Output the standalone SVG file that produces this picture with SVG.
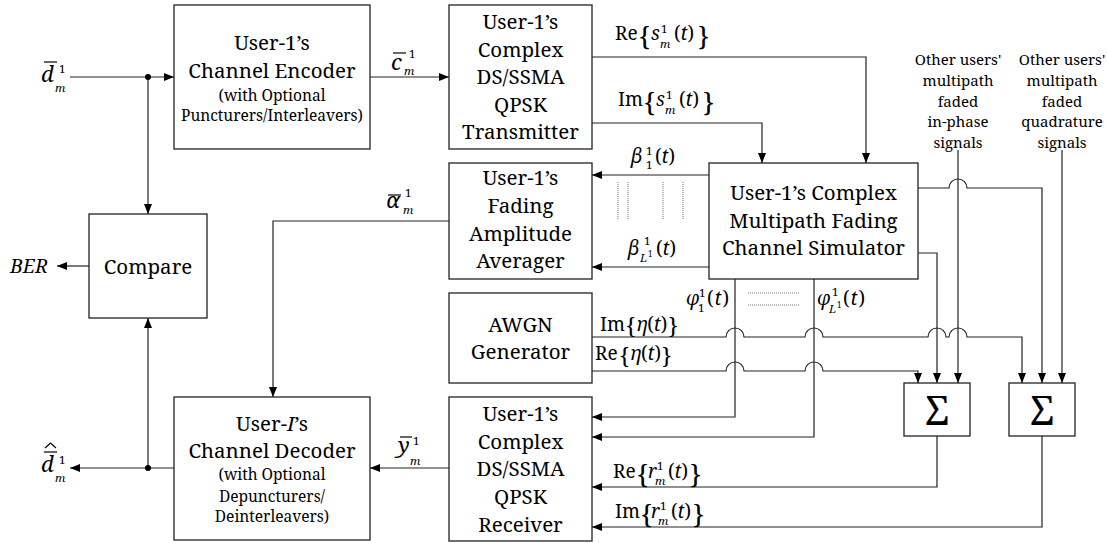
<svg xmlns="http://www.w3.org/2000/svg" width="1107" height="543" viewBox="0 0 1107 543">
<style>
.t{font-family:'Noto Serif','Liberation Serif','DejaVu Serif',serif;fill:#000}
.bx{font-size:20.5px;text-anchor:middle}
.sm{font-size:15.5px;text-anchor:middle}
.ou{font-size:15px;text-anchor:middle}
.m{font-size:19px}
.i{font-style:italic}
.s{font-size:11.5px}
.ss{font-size:8px}
.br{font-size:26px}
.bs{font-size:22px}
.bg{font-size:22px}
rect.n{fill:#fff;stroke:#222;stroke-width:1.3}
.ca{fill:none;stroke:#222;stroke-width:1.2;marker-end:url(#ah)}
.dot{fill:none;stroke:#777;stroke-width:1;stroke-dasharray:1 1}
.bar{fill:none;stroke:#000;stroke-width:1.2}
</style>
<defs>
<marker id="ah" markerWidth="10" markerHeight="8" refX="10" refY="4" orient="auto" markerUnits="userSpaceOnUse">
<path d="M0,0 L10,4 L0,8 z" fill="#000"/>
</marker>
</defs>

<g id="connectors">
<path class="ca" d="M70,77 H174"/>
<path class="ca" d="M148,77 V214"/>
<path class="ca" d="M370,77 H449"/>
<path class="ca" d="M592,57 H866 V163"/>
<path class="ca" d="M592,123 H762 V163"/>
<path class="ca" d="M709,175 H592"/>
<path class="ca" d="M709,267 H592"/>
<path class="ca" d="M449,221 H273 V397"/>
<path class="ca" d="M89,266 H57"/>
<path class="ca" d="M174,468 H70"/>
<path class="ca" d="M148,468 V318"/>
<path class="ca" d="M449,468 H370"/>
<path class="ca" d="M918,188 H949 A9,9 0 0 1 967,188 H1042 V383"/>
<path class="ca" d="M918,253 H937 V383"/>
<path class="ca" d="M958,150 V383"/>
<path class="ca" d="M1062,150 V383"/>
<path class="ca" d="M735,279 V417 H592"/>
<path class="ca" d="M814,279 V437 H592"/>
<path class="ca" d="M592,337 H726 A9,9 0 0 1 744,337 H805 A9,9 0 0 1 823,337 H928 A9,9 0 0 1 946,337 H949 A9,9 0 0 1 967,337 H1022 V383"/>
<path class="ca" d="M592,371 H726 A9,9 0 0 1 744,371 H805 A9,9 0 0 1 823,371 H918 V383"/>
<path class="ca" d="M937,436 V487 H592"/>
<path class="ca" d="M1042,436 V527 H592"/>
<circle cx="148" cy="77" r="3" fill="#000"/>
<circle cx="148" cy="468" r="3" fill="#000"/>
<path class="dot" d="M618,182 V220 M628,182 V220 M663,182 V220 M683,182 V220"/>
<path class="dot" d="M748,293 H800 M748,305 H800"/>
</g>

<g id="encoder">
<rect class="n" x="174" y="5" width="196" height="144"/>
<text class="t bx" x="272" y="50">User-1’s</text>
<text class="t bx" x="272" y="78">Channel Encoder</text>
<text class="t sm" x="272" y="101">(with Optional</text>
<text class="t sm" x="272" y="121">Puncturers/Interleavers)</text>
</g>

<g id="transmitter">
<rect class="n" x="449" y="5" width="143" height="144"/>
<text class="t bx" x="520.5" y="29">User-1’s</text>
<text class="t bx" x="520.5" y="56.5">Complex</text>
<text class="t bx" x="520.5" y="84">DS/SSMA</text>
<text class="t bx" x="520.5" y="111.5">QPSK</text>
<text class="t bx" x="520.5" y="139">Transmitter</text>
</g>

<g id="averager">
<rect class="n" x="449" y="163" width="143" height="116"/>
<text class="t bx" x="520.5" y="185">User-1’s</text>
<text class="t bx" x="520.5" y="213">Fading</text>
<text class="t bx" x="520.5" y="241">Amplitude</text>
<text class="t bx" x="520.5" y="268">Averager</text>
</g>

<g id="simulator">
<rect class="n" x="709" y="163" width="209" height="116"/>
<text class="t bx" x="813.5" y="200">User-1’s Complex</text>
<text class="t bx" x="813.5" y="227.5">Multipath Fading</text>
<text class="t bx" x="813.5" y="255">Channel Simulator</text>
</g>

<g id="awgn">
<rect class="n" x="449" y="293" width="143" height="90"/>
<text class="t bx" x="520.5" y="332">AWGN</text>
<text class="t bx" x="520.5" y="359">Generator</text>
</g>

<g id="receiver">
<rect class="n" x="449" y="397" width="143" height="144"/>
<text class="t bx" x="520.5" y="421">User-1’s</text>
<text class="t bx" x="520.5" y="449">Complex</text>
<text class="t bx" x="520.5" y="476">DS/SSMA</text>
<text class="t bx" x="520.5" y="504">QPSK</text>
<text class="t bx" x="520.5" y="532">Receiver</text>
</g>

<g id="decoder">
<rect class="n" x="174" y="397" width="196" height="143"/>
<text class="t bx" x="272" y="431">User-<tspan class="i">I</tspan>’s</text>
<text class="t bx" x="272" y="458">Channel Decoder</text>
<text class="t sm" x="272" y="480">(with Optional</text>
<text class="t sm" x="272" y="502">Depuncturers/</text>
<text class="t sm" x="272" y="522">Deinterleavers)</text>
</g>

<g id="compare">
<rect class="n" x="89" y="214" width="118" height="104"/>
<text class="t bx" x="148" y="274">Compare</text>
</g>

<g id="sum1">
<rect class="n" x="904" y="383" width="66" height="53"/>
<text class="t" x="937" y="425" font-size="40" text-anchor="middle">Σ</text>
</g>

<g id="sum2">
<rect class="n" x="1009" y="383" width="66" height="53"/>
<text class="t" x="1042" y="425" font-size="40" text-anchor="middle">Σ</text>
</g>

<g id="other-inphase">
<text class="t ou" x="958" y="65">Other users'</text>
<text class="t ou" x="958" y="86">multipath</text>
<text class="t ou" x="958" y="107">faded</text>
<text class="t ou" x="958" y="127">in-phase</text>
<text class="t ou" x="958" y="148">signals</text>
</g>

<g id="other-quadrature">
<text class="t ou" x="1062" y="65">Other users'</text>
<text class="t ou" x="1062" y="86">multipath</text>
<text class="t ou" x="1062" y="107">faded</text>
<text class="t ou" x="1062" y="127">quadrature</text>
<text class="t ou" x="1062" y="148">signals</text>
</g>

<g id="labels">
<text class="t"><tspan class="bg i" x="41" y="82">d</tspan><tspan class="s" x="59" y="73">1</tspan><tspan class="s i" x="55" y="92">m</tspan></text>
<line class="bar" x1="44" y1="62" x2="57" y2="62"/>
<text class="t"><tspan class="bg i" x="41" y="472">d</tspan><tspan class="s" x="59" y="464">1</tspan><tspan class="s i" x="55" y="482">m</tspan></text>
<line class="bar" x1="44" y1="452" x2="57" y2="452"/>
<polyline class="bar" points="45,448 50.5,443 56,448"/>
<text class="t"><tspan class="bg i" x="391" y="70">c</tspan><tspan class="s" x="409" y="58">1</tspan><tspan class="s i" x="404" y="75">m</tspan></text>
<line class="bar" x1="393" y1="53" x2="406" y2="53"/>
<text class="t"><tspan class="bg i" x="386" y="208">α</tspan><tspan class="s" x="405" y="197">1</tspan><tspan class="s i" x="403" y="214">m</tspan></text>
<line class="bar" x1="388" y1="195" x2="401" y2="195"/>
<text class="t"><tspan class="bg i" x="398" y="453">y</tspan><tspan class="s" x="413" y="445">1</tspan><tspan class="s i" x="410" y="465">m</tspan></text>
<line class="bar" x1="400" y1="437" x2="412" y2="437"/>
<text class="t i" x="10" y="273" font-size="19.5">BER</text>
<text class="t m"><tspan x="615" y="40">Re</tspan><tspan class="br" x="639" y="45">{</tspan><tspan class="i" x="651" y="40">s</tspan><tspan class="s" x="661" y="33">1</tspan><tspan class="s i" x="660" y="47.5">m</tspan><tspan x="674" y="40">(</tspan><tspan class="i">t</tspan><tspan>)</tspan><tspan class="br" x="698" y="45">}</tspan></text>
<text class="t m"><tspan x="618" y="106">Im</tspan><tspan class="br" x="644" y="111">{</tspan><tspan class="i" x="656" y="106">s</tspan><tspan class="s" x="666" y="99">1</tspan><tspan class="s i" x="665" y="113.5">m</tspan><tspan x="679" y="106">(</tspan><tspan class="i">t</tspan><tspan>)</tspan><tspan class="br" x="703" y="111">}</tspan></text>
<text class="t m"><tspan class="i" x="631" y="163">β</tspan><tspan class="s" x="646" y="155">1</tspan><tspan class="s" x="646" y="169">1</tspan><tspan x="655" y="163">(</tspan><tspan class="i">t</tspan><tspan>)</tspan></text>
<text class="t m"><tspan class="i" x="628" y="255">β</tspan><tspan class="s" x="644" y="244.5">1</tspan><tspan class="s i" x="640" y="262">L</tspan><tspan class="ss" x="648" y="257">1</tspan><tspan x="656" y="255">(</tspan><tspan class="i">t</tspan><tspan>)</tspan></text>
<text class="t m"><tspan class="i" x="686" y="305">φ</tspan><tspan class="s" x="699" y="297">1</tspan><tspan class="s" x="698" y="312">1</tspan><tspan x="707" y="305">(</tspan><tspan class="i" dx="1">t</tspan><tspan dx="1">)</tspan></text>
<text class="t m"><tspan class="i" x="817" y="305">φ</tspan><tspan class="s" x="832" y="295.5">1</tspan><tspan class="s i" x="829" y="313">L</tspan><tspan class="ss" x="837" y="308">1</tspan><tspan x="843" y="305">(</tspan><tspan class="i" dx="1">t</tspan><tspan dx="1">)</tspan></text>
<text class="t m"><tspan x="600" y="331">Im</tspan><tspan class="bs" y="333.5" dx="1">{</tspan><tspan class="i" y="331" dx="1">η</tspan><tspan>(</tspan><tspan class="i">t</tspan><tspan>)</tspan><tspan class="bs" y="333.5" dx="1">}</tspan></text>
<text class="t m"><tspan x="595" y="360">Re</tspan><tspan class="bs" y="364" dx="2">{</tspan><tspan class="i" y="360" dx="1">η</tspan><tspan>(</tspan><tspan class="i">t</tspan><tspan>)</tspan><tspan class="bs" y="364" dx="1">}</tspan></text>
<text class="t m"><tspan x="613" y="478">Re</tspan><tspan class="br" x="637" y="483">{</tspan><tspan class="i" x="648" y="478">r</tspan><tspan class="s" x="657" y="470">1</tspan><tspan class="s i" x="655" y="485">m</tspan><tspan x="668" y="478">(</tspan><tspan class="i">t</tspan><tspan>)</tspan><tspan class="br" x="690" y="483">}</tspan></text>
<text class="t m"><tspan x="615" y="518">Im</tspan><tspan class="br" x="641" y="523">{</tspan><tspan class="i" x="651" y="518">r</tspan><tspan class="s" x="660" y="510">1</tspan><tspan class="s i" x="658" y="525">m</tspan><tspan x="671" y="518">(</tspan><tspan class="i">t</tspan><tspan>)</tspan><tspan class="br" x="693" y="523">}</tspan></text>
</g>
</svg>
